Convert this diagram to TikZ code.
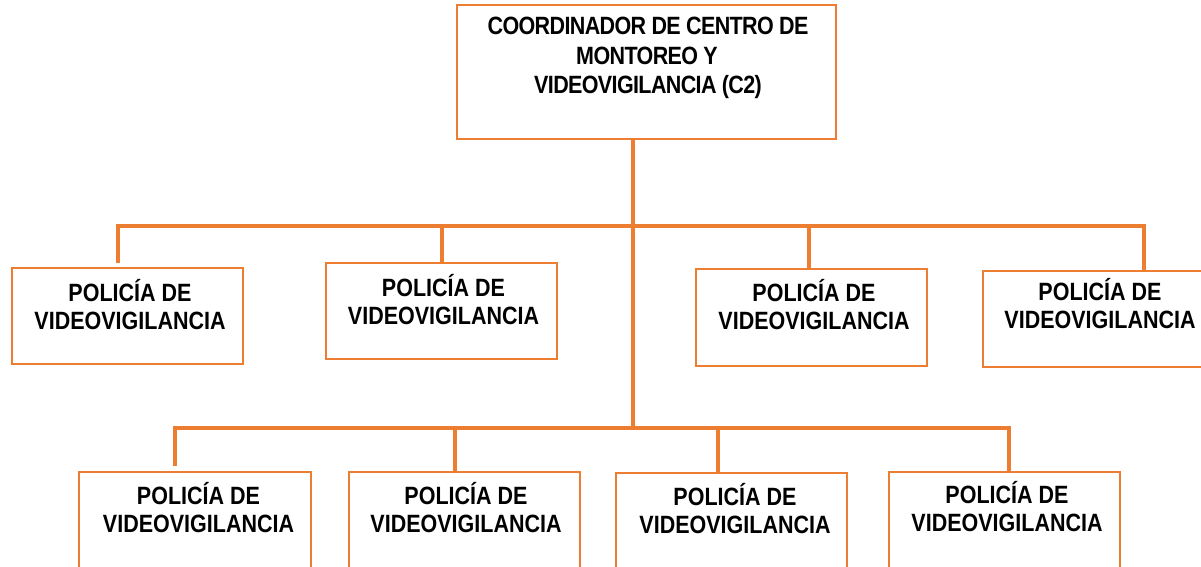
\documentclass[tikz,border=0pt]{standalone}
\usepackage{fontspec}
\newfontfamily\cfont{Liberation Sans}[FakeStretch=0.86]
\newfontfamily\tfont{Liberation Sans}[FakeStretch=0.86,LetterSpace=-2.5]
\definecolor{org}{HTML}{ED7D31}
\begin{document}
\begin{tikzpicture}[x=1pt,y=-1pt,
  box/.style={draw=org, line width=1.2pt, rectangle, inner sep=0pt},
  txt/.style={font=\cfont\bfseries\fontsize{25}{28}\selectfont, inner sep=0pt, text=black},
  toptxt/.style={font=\tfont\bfseries\fontsize{25}{28}\selectfont, inner sep=0pt, text=black},
  conn/.style={draw=org, line width=4pt}]
\clip (0,0) rectangle (1201,567);
% top box
\node[box, minimum width=379pt, minimum height=134pt] (top) at (646.5,72) {};
\node[toptxt, anchor=base] (top1) at (648,35) {COORDINADOR DE CENTRO DE};
\node[toptxt, anchor=base] (top2) at (647,64.5) {MONTOREO Y};
\node[toptxt, anchor=base] (top3) at (648,94) {VIDEOVIGILANCIA (C2)};
% row 1
\node[box, minimum width=231pt, minimum height=96pt] (b1) at (127.5,316) {};
\node[txt, anchor=base] (b1a) at (130,301) {POLICÍA DE};
\node[txt, anchor=base] (b1b) at (130,329) {VIDEOVIGILANCIA};
\node[box, minimum width=231pt, minimum height=96pt] (b2) at (441.5,311) {};
\node[txt, anchor=base] (b2a) at (443.5,296) {POLICÍA DE};
\node[txt, anchor=base] (b2b) at (443.5,324) {VIDEOVIGILANCIA};
\node[box, minimum width=231pt, minimum height=97pt] (b3) at (811.5,317.5) {};
\node[txt, anchor=base] (b3a) at (814,301) {POLICÍA DE};
\node[txt, anchor=base] (b3b) at (814,329) {VIDEOVIGILANCIA};
\node[box, minimum width=230pt, minimum height=96pt] (b4) at (1098,319) {};
\node[txt, anchor=base] (b4a) at (1100,300) {POLICÍA DE};
\node[txt, anchor=base] (b4b) at (1100,328) {VIDEOVIGILANCIA};
% row 2
\node[box, minimum width=232pt, minimum height=100pt] (b5) at (195,522) {};
\node[txt, anchor=base] (b5a) at (198.5,504) {POLICÍA DE};
\node[txt, anchor=base] (b5b) at (198.5,532) {VIDEOVIGILANCIA};
\node[box, minimum width=231pt, minimum height=100pt] (b6) at (464.5,522) {};
\node[txt, anchor=base] (b6a) at (466,504) {POLICÍA DE};
\node[txt, anchor=base] (b6b) at (466,532) {VIDEOVIGILANCIA};
\node[box, minimum width=231pt, minimum height=100pt] (b7) at (731.5,523) {};
\node[txt, anchor=base] (b7a) at (735,505) {POLICÍA DE};
\node[txt, anchor=base] (b7b) at (735,533) {VIDEOVIGILANCIA};
\node[box, minimum width=231pt, minimum height=100pt] (b8) at (1004.5,522) {};
\node[txt, anchor=base] (b8a) at (1007,503) {POLICÍA DE};
\node[txt, anchor=base] (b8b) at (1007,531) {VIDEOVIGILANCIA};
% connectors
\coordinate (j1) at (633,226);
\coordinate (j2) at (633,428);
\coordinate (u1) at (118,226);
\coordinate (u2) at (442,226);
\coordinate (u3) at (809,226);
\coordinate (u4) at (1144,226);
\coordinate (l1) at (175,428);
\coordinate (l2) at (455,428);
\coordinate (l3) at (718,428);
\coordinate (l4) at (1009,428);
\draw[conn] (top.south -| j1) -- (j2);
\draw[conn, shorten <=4pt] (b1.north -| u1) -- (u1) -- (u4) -- (b4.north -| u4);
\draw[conn] (u2) -- (b2.north -| u2);
\draw[conn] (u3) -- (b3.north -| u3);
\draw[conn, shorten <=5pt] (b5.north -| l1) -- (l1) -- (l4) -- (b8.north -| l4);
\draw[conn] (l2) -- (b6.north -| l2);
\draw[conn] (l3) -- (b7.north -| l3);
\end{tikzpicture}
\end{document}
